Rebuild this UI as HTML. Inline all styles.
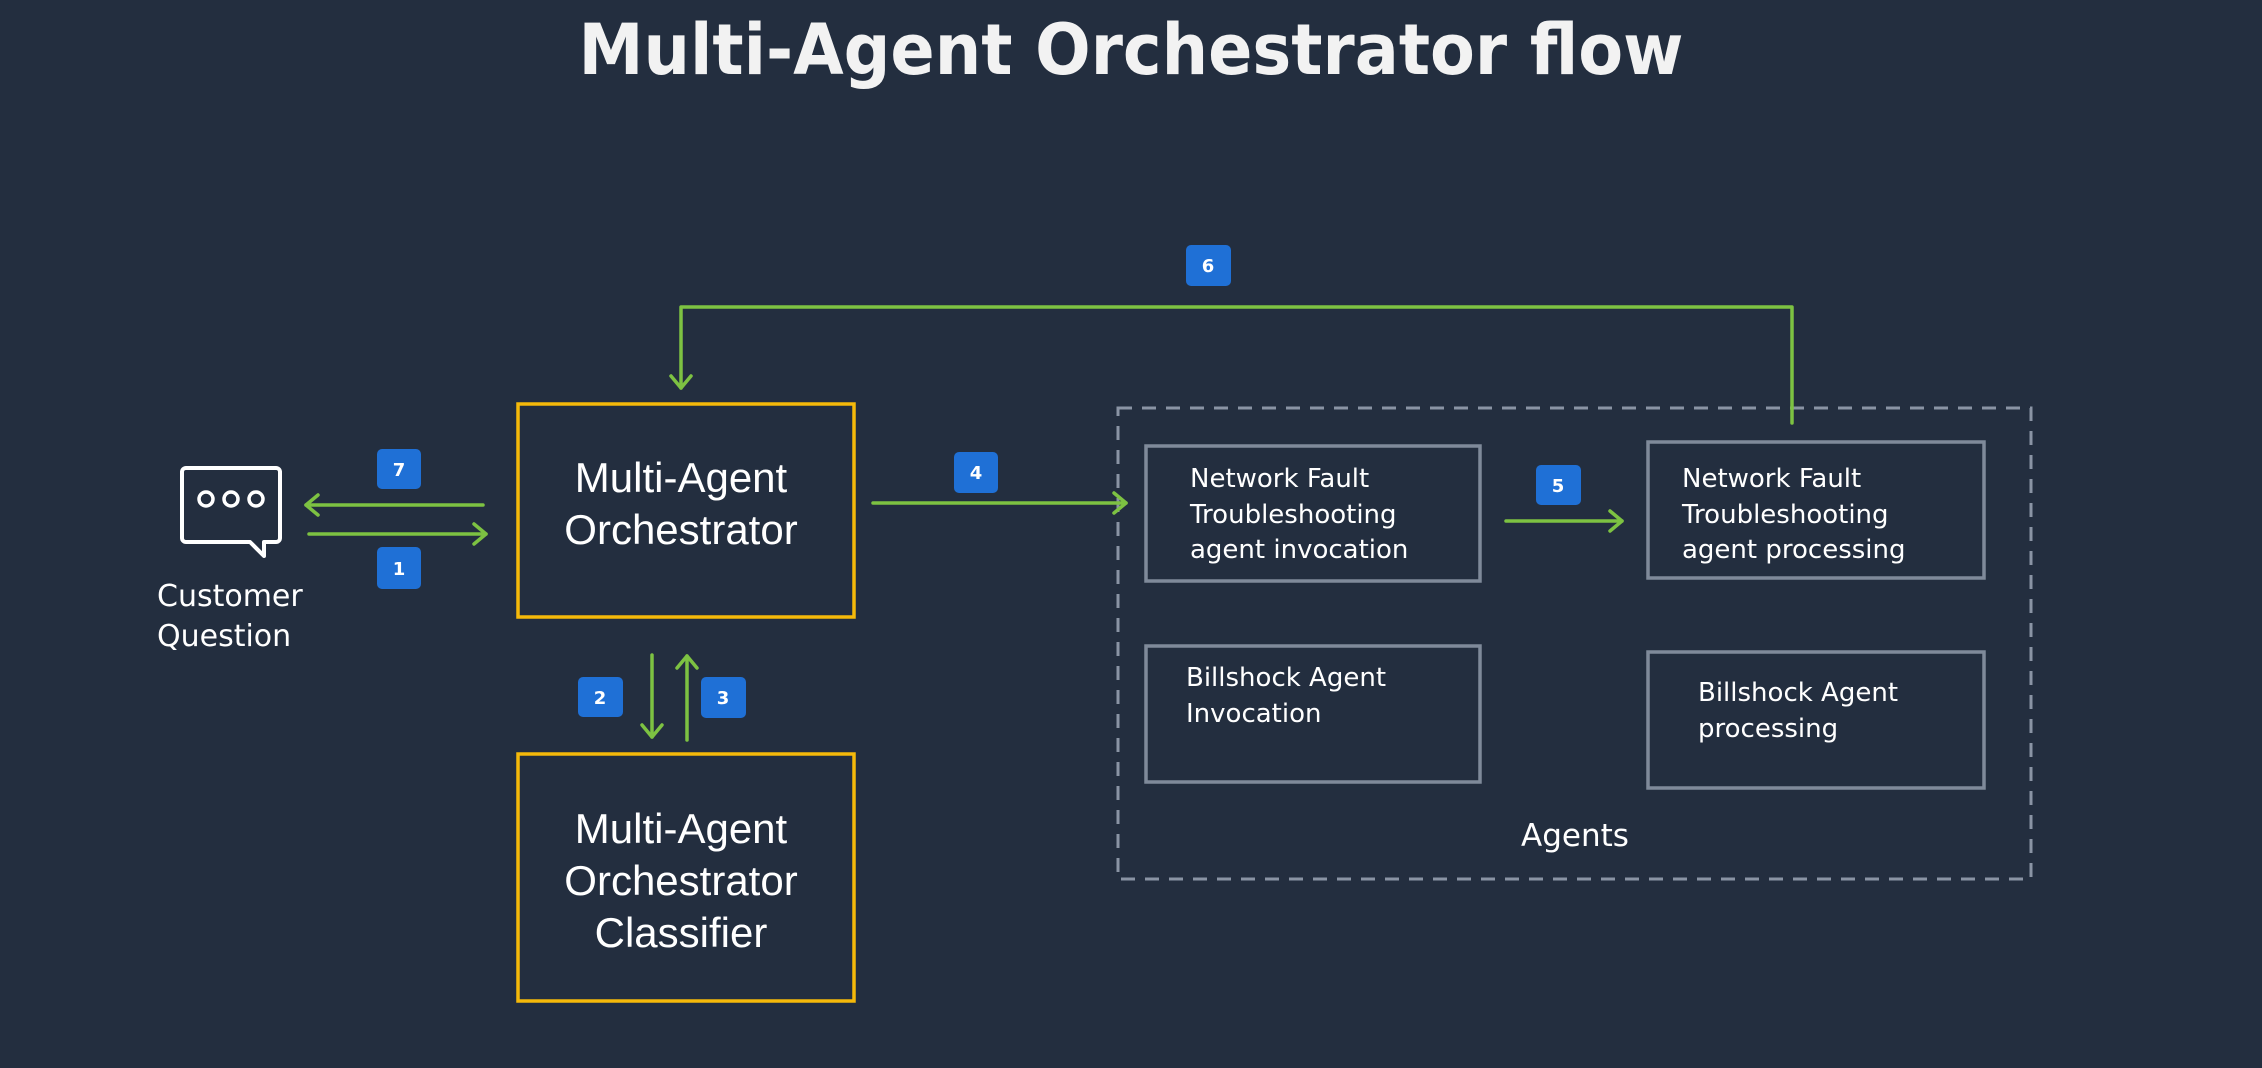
<!DOCTYPE html>
<html><head><meta charset="utf-8"><style>
html,body{margin:0;padding:0;background:#232e3f;}
svg{display:block}
</style></head><body>
<svg width="2262" height="1068" viewBox="0 0 2262 1068" xmlns="http://www.w3.org/2000/svg">
<rect width="2262" height="1068" fill="#232e3f"/>
<text x="1131" y="74" text-anchor="middle" font-family="DejaVu Sans, Liberation Sans, sans-serif" font-weight="bold" font-size="70" fill="#f2f2f2" textLength="1105" lengthAdjust="spacingAndGlyphs">Multi-Agent Orchestrator flow</text>

<rect x="1118" y="408" width="913" height="471" fill="none" stroke="#8a94a4" stroke-width="3" stroke-dasharray="14,10"/>

<rect x="518" y="404" width="336" height="213" fill="none" stroke="#f5b90a" stroke-width="3.5"/>
<rect x="518" y="754" width="336" height="247" fill="none" stroke="#f5b90a" stroke-width="3.5"/>
<g font-family="Liberation Sans, sans-serif" font-size="42" fill="#ffffff" text-anchor="middle">
<text x="681" y="492">Multi-Agent</text>
<text x="681" y="544">Orchestrator</text>
<text x="681" y="843">Multi-Agent</text>
<text x="681" y="895">Orchestrator</text>
<text x="681" y="947">Classifier</text>
</g>

<g fill="none" stroke="#7f8a9a" stroke-width="3.5">
<rect x="1146" y="446" width="334" height="135"/>
<rect x="1648" y="442" width="336" height="136"/>
<rect x="1146" y="646" width="334" height="136"/>
<rect x="1648" y="652" width="336" height="136"/>
</g>
<g font-family="DejaVu Sans, Liberation Sans, sans-serif" font-size="26" fill="#ffffff">
<text x="1190" y="487">Network Fault</text>
<text x="1190" y="523">Troubleshooting</text>
<text x="1190" y="558">agent  invocation</text>
<text x="1682" y="487">Network Fault</text>
<text x="1682" y="523">Troubleshooting</text>
<text x="1682" y="558">agent  processing</text>
<text x="1186" y="686">Billshock Agent</text>
<text x="1186" y="722">Invocation</text>
<text x="1698" y="701">Billshock Agent</text>
<text x="1698" y="737">processing</text>
<text x="1575" y="846" text-anchor="middle" font-size="31">Agents</text>
<text x="157" y="606" font-size="30">Customer</text>
<text x="157" y="646" font-size="30">Question</text>
</g>

<path d="M186,468 h90 a4,4 0 0 1 4,4 v66 a4,4 0 0 1 -4,4 h-12 v14 l-14,-14 h-64 a4,4 0 0 1 -4,-4 v-66 a4,4 0 0 1 4,-4 z" fill="none" stroke="#fff" stroke-width="4" stroke-linejoin="round"/>
<circle cx="206" cy="499" r="7" fill="none" stroke="#fff" stroke-width="3.5"/>
<circle cx="231" cy="499" r="7" fill="none" stroke="#fff" stroke-width="3.5"/>
<circle cx="256" cy="499" r="7" fill="none" stroke="#fff" stroke-width="3.5"/>

<g stroke="#7dc242" stroke-width="3.5" fill="none" stroke-linecap="round" stroke-linejoin="round">
<line x1="483" y1="505" x2="306" y2="505"/><polyline points="318,495 306,505 318,515"/>
<line x1="309" y1="534" x2="486" y2="534"/><polyline points="474,524 486,534 474,544"/>
<line x1="873" y1="503" x2="1126" y2="503"/><polyline points="1114,493 1126,503 1114,513"/>
<line x1="652" y1="655" x2="652" y2="737"/><polyline points="642,725 652,737 662,725"/>
<line x1="687" y1="740" x2="687" y2="656"/><polyline points="677,668 687,656 697,668"/>
<line x1="1506" y1="521" x2="1622" y2="521"/><polyline points="1610,511 1622,521 1610,531"/>
<polyline points="1792,423 1792,307 681,307 681,388"/><polyline points="671,376 681,388 691,376"/>
</g>

<g fill="#1f70d6">
<rect x="377" y="449" width="44" height="40" rx="5"/>
<rect x="377" y="547" width="44" height="42" rx="5"/>
<rect x="954" y="452" width="44" height="41" rx="5"/>
<rect x="578" y="677" width="45" height="40" rx="5"/>
<rect x="701" y="677" width="45" height="41" rx="5"/>
<rect x="1536" y="465" width="45" height="40" rx="5"/>
<rect x="1186" y="245" width="45" height="41" rx="5"/>
</g>
<g font-family="DejaVu Sans, Liberation Sans, sans-serif" font-size="18" font-weight="bold" fill="#fff" text-anchor="middle">
<text x="399" y="476">7</text>
<text x="399" y="575">1</text>
<text x="976" y="479">4</text>
<text x="600" y="704">2</text>
<text x="723" y="704">3</text>
<text x="1558" y="492">5</text>
<text x="1208" y="272">6</text>
</g>
</svg>
</body></html>
